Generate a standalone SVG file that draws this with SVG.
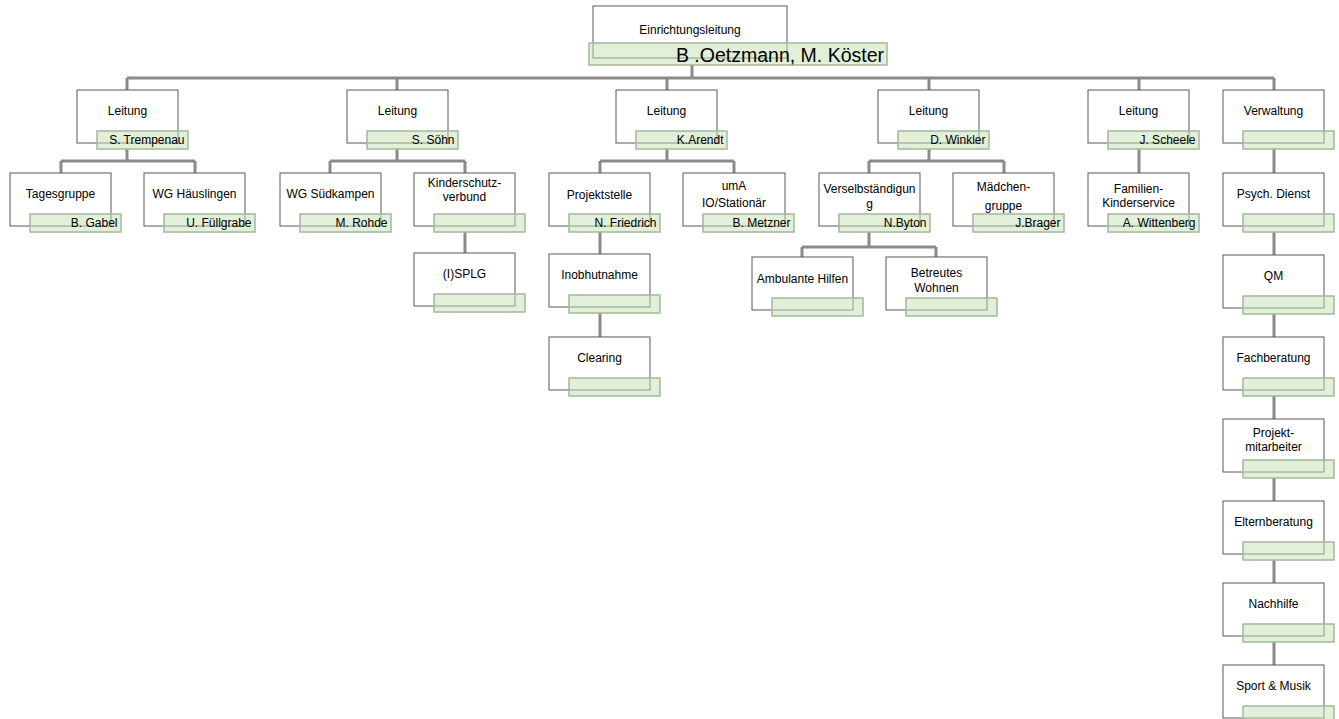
<svg xmlns="http://www.w3.org/2000/svg" width="1339" height="719" viewBox="0 0 1339 719">
<style>
.bg{fill:#ffffff}
.box{fill:#ffffff;stroke:#595959;stroke-width:1}
.lbl{fill:#c6e0b4;fill-opacity:0.5;stroke:#a3b89a;stroke-width:1.5}
.t{font-family:"Liberation Sans",Arial,sans-serif;font-size:12px;fill:#000000;text-anchor:middle}
.n{font-family:"Liberation Sans",Arial,sans-serif;font-size:12px;fill:#000000;text-anchor:end}
.big{font-family:"Liberation Sans",Arial,sans-serif;font-size:19.5px;fill:#000000;text-anchor:end}
.c{fill:none;stroke:#8a8a8a;stroke-width:3}
</style>
<rect class="bg" x="0" y="0" width="1339" height="719"/>
<g id="connectors">
<path class="c" d="M692 65V78M127 78H1274M127 78V90M397 78V90M667 78V90M929 78V90M1139 78V90M1274 78V90"/>
<path class="c" d="M127 149V161M61 161H195M61 161V173M195 161V173"/>
<path class="c" d="M397 149V161M330 161H465M330 161V173M465 161V173M465 232V253"/>
<path class="c" d="M667 149V161M600 161H734M600 161V173M734 161V173M600 232V254M600 313V337"/>
<path class="c" d="M929 149V161M869 161H1004M869 161V173M1004 161V173M869 232V247M802 247H936M802 247V257M936 247V257"/>
<path class="c" d="M1139 149V173"/>
<path class="c" d="M1274 149V173M1274 232V255M1274 314V337M1274 396V419M1274 478V501M1274 560V583M1274 642V665"/>
</g>
<g id="top">
<rect class="box" x="593" y="6" width="194" height="52"/>
<rect class="lbl" x="589" y="43" width="298" height="22"/>
<text class="t" x="690" y="34">Einrichtungsleitung</text>
<text class="big" x="884" y="62">B .Oetzmann, M. Köster</text>
</g>
<g id="leitung1"><rect class="box" x="77" y="90" width="101" height="53"/><rect class="lbl" x="97" y="131" width="91" height="18"/><text class="t" x="127.5" y="115">Leitung</text><text class="n" x="184.5" y="144">S. Trempenau</text></g>
<g id="leitung2"><rect class="box" x="347" y="90" width="101" height="53"/><rect class="lbl" x="367" y="131" width="91" height="18"/><text class="t" x="397.5" y="115">Leitung</text><text class="n" x="454.5" y="144">S. Söhn</text></g>
<g id="leitung3"><rect class="box" x="616" y="90" width="101" height="53"/><rect class="lbl" x="636" y="131" width="91" height="18"/><text class="t" x="666.5" y="115">Leitung</text><text class="n" x="723.5" y="144">K.Arendt</text></g>
<g id="leitung4"><rect class="box" x="878" y="90" width="101" height="53"/><rect class="lbl" x="898" y="131" width="91" height="18"/><text class="t" x="928.5" y="115">Leitung</text><text class="n" x="985.5" y="144">D. Winkler</text></g>
<g id="leitung5"><rect class="box" x="1088" y="90" width="101" height="53"/><rect class="lbl" x="1108" y="131" width="91" height="18"/><text class="t" x="1138.5" y="115">Leitung</text><text class="n" x="1195.5" y="144">J. Scheele</text></g>
<g id="verwaltung"><rect class="box" x="1223" y="90" width="101" height="53"/><rect class="lbl" x="1243" y="131" width="91" height="18"/><text class="t" x="1273.5" y="115">Verwaltung</text></g>
<g id="tagesgruppe"><rect class="box" x="10" y="173" width="101" height="53"/><rect class="lbl" x="30" y="214" width="91" height="18"/><text class="t" x="60.5" y="198">Tagesgruppe</text><text class="n" x="117.5" y="227">B. Gabel</text></g>
<g id="wg-haeuslingen"><rect class="box" x="144" y="173" width="101" height="53"/><rect class="lbl" x="164" y="214" width="91" height="18"/><text class="t" x="194.5" y="198">WG Häuslingen</text><text class="n" x="251.5" y="227">U. Füllgrabe</text></g>
<g id="wg-suedkampen"><rect class="box" x="280" y="173" width="101" height="53"/><rect class="lbl" x="300" y="214" width="91" height="18"/><text class="t" x="330.5" y="198">WG Südkampen</text><text class="n" x="387.5" y="227">M. Rohde</text></g>
<g id="kinderschutz"><rect class="box" x="414" y="173" width="101" height="53"/><rect class="lbl" x="434" y="214" width="91" height="18"/><text class="t" x="464.5" y="187">Kinderschutz-</text><text class="t" x="464.5" y="201">verbund</text></g>
<g id="projektstelle"><rect class="box" x="549" y="173" width="101" height="53"/><rect class="lbl" x="569" y="214" width="91" height="18"/><text class="t" x="599.5" y="199">Projektstelle</text><text class="n" x="656.5" y="227">N. Friedrich</text></g>
<g id="uma"><rect class="box" x="683" y="173" width="102" height="53"/><rect class="lbl" x="703" y="214" width="91" height="18"/><text class="t" x="734" y="190">umA</text><text class="t" x="734" y="207">IO/Stationär</text><text class="n" x="790.5" y="227">B. Metzner</text></g>
<g id="verselbstaendigung"><rect class="box" x="819" y="173" width="101" height="53"/><rect class="lbl" x="839" y="214" width="91" height="18"/><text class="t" x="869.5" y="193">Verselbständigun</text><text class="t" x="869.5" y="208">g</text><text class="n" x="926.5" y="227">N.Byton</text></g>
<g id="maedchengruppe"><rect class="box" x="953" y="173" width="101" height="53"/><rect class="lbl" x="973" y="214" width="91" height="18"/><text class="t" x="1003.5" y="191">Mädchen-</text><text class="t" x="1003.5" y="210">gruppe</text><text class="n" x="1060.5" y="227">J.Brager</text></g>
<g id="familien"><rect class="box" x="1088" y="173" width="101" height="53"/><rect class="lbl" x="1108" y="214" width="91" height="18"/><text class="t" x="1138.5" y="193">Familien-</text><text class="t" x="1138.5" y="207">Kinderservice</text><text class="n" x="1195.5" y="227">A. Wittenberg</text></g>
<g id="psych"><rect class="box" x="1223" y="173" width="101" height="53"/><rect class="lbl" x="1243" y="214" width="91" height="18"/><text class="t" x="1273.5" y="198">Psych. Dienst</text></g>
<g id="isplg"><rect class="box" x="414" y="253" width="101" height="53"/><rect class="lbl" x="434" y="294" width="91" height="18"/><text class="t" x="464.5" y="278">(I)SPLG</text></g>
<g id="inobhutnahme"><rect class="box" x="549" y="254" width="101" height="53"/><rect class="lbl" x="569" y="295" width="91" height="18"/><text class="t" x="599.5" y="279">Inobhutnahme</text></g>
<g id="clearing"><rect class="box" x="549" y="337" width="101" height="53"/><rect class="lbl" x="569" y="378" width="91" height="18"/><text class="t" x="599.5" y="362">Clearing</text></g>
<g id="ambulant"><rect class="box" x="752" y="257" width="101" height="53"/><rect class="lbl" x="772" y="298" width="91" height="18"/><text class="t" x="802.5" y="283">Ambulante Hilfen</text></g>
<g id="betreutes"><rect class="box" x="886" y="257" width="101" height="53"/><rect class="lbl" x="906" y="298" width="91" height="18"/><text class="t" x="936.5" y="277">Betreutes</text><text class="t" x="936.5" y="292">Wohnen</text></g>
<g id="qm"><rect class="box" x="1223" y="255" width="101" height="53"/><rect class="lbl" x="1243" y="296" width="91" height="18"/><text class="t" x="1273.5" y="280">QM</text></g>
<g id="fachberatung"><rect class="box" x="1223" y="337" width="101" height="53"/><rect class="lbl" x="1243" y="378" width="91" height="18"/><text class="t" x="1273.5" y="362">Fachberatung</text></g>
<g id="projektmitarbeiter"><rect class="box" x="1223" y="419" width="101" height="53"/><rect class="lbl" x="1243" y="460" width="91" height="18"/><text class="t" x="1273.5" y="437">Projekt-</text><text class="t" x="1273.5" y="451">mitarbeiter</text></g>
<g id="elternberatung"><rect class="box" x="1223" y="501" width="101" height="53"/><rect class="lbl" x="1243" y="542" width="91" height="18"/><text class="t" x="1273.5" y="526">Elternberatung</text></g>
<g id="nachhilfe"><rect class="box" x="1223" y="583" width="101" height="53"/><rect class="lbl" x="1243" y="624" width="91" height="18"/><text class="t" x="1273.5" y="608">Nachhilfe</text></g>
<g id="sport"><rect class="box" x="1223" y="665" width="101" height="53"/><rect class="lbl" x="1243" y="706" width="91" height="18"/><text class="t" x="1273.5" y="690">Sport &amp; Musik</text></g>
</svg>
